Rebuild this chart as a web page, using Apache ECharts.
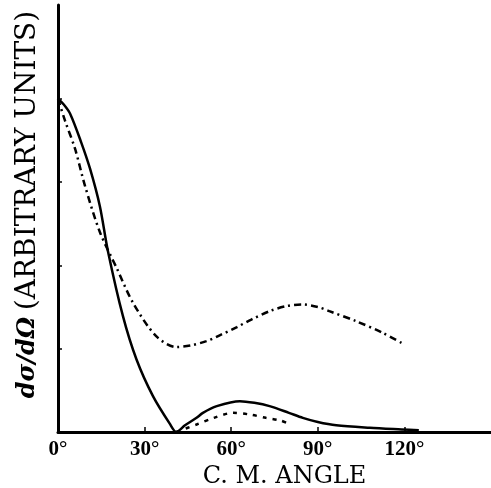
<!DOCTYPE html>
<html>
<head>
<meta charset="utf-8">
<script src="https://cdn.jsdelivr.net/npm/echarts@6/dist/echarts.min.js"></script>
<style>html,body{margin:0;padding:0;background:#fff;}#c{width:491px;height:488px;}</style>
</head>
<body>
<div id="c"></div>
<script>
// Tick labels
var xTickValues = [0, 30, 60, 90, 120];
var yTickValues = [1, 2, 3, 4];

// Solid curve (angle in degrees, cross section arbitrary units)
var solidAngles = [0, 2, 4.2, 8, 11.1, 14.5, 17.3, 22.5, 27.2, 32.9, 38.7, 41, 44, 48, 50.2, 55, 63, 68, 73.3, 80, 84.8, 90, 96.4, 108, 119, 125];
var solidValues = [4.0, 3.93, 3.82, 3.48, 3.16, 2.71, 2.17, 1.39, 0.87, 0.43, 0.10, 0.0, 0.08, 0.17, 0.23, 0.31, 0.37, 0.35, 0.31, 0.23, 0.17, 0.12, 0.08, 0.05, 0.03, 0.02];

// Dash-dot curve
var dashDotAngles = [0, 2.4, 5.9, 9.3, 14.5, 20.3, 26, 34, 41, 46, 51.4, 56, 62, 67, 73.3, 79, 84.8, 90, 94, 103.3, 112.5, 120];
var dashDotValues = [4.0, 3.74, 3.40, 2.96, 2.40, 1.97, 1.55, 1.15, 1.02, 1.04, 1.09, 1.16, 1.26, 1.35, 1.45, 1.51, 1.53, 1.50, 1.45, 1.33, 1.19, 1.05];

// Dotted curve
var dottedAngles = [41, 48, 54, 60.6, 66.4, 72, 76.8, 80];
var dottedValues = [0.0, 0.09, 0.17, 0.23, 0.21, 0.17, 0.14, 0.10];

function pairs(a, v) { return a.map(function (x, i) { return [x, v[i]]; }); }

var chart = echarts.init(document.getElementById('c'), null, {renderer: 'canvas'});
chart.setOption({
  backgroundColor: '#ffffff',
  animation: false,
  grid: {left: 58, right: 0, top: 5, bottom: 56, containLabel: false, outerBoundsMode: 'none'},
  xAxis: {
    type: 'value', min: 0, max: 150,
    name: 'C. M. ANGLE', nameLocation: 'middle', nameGap: 22,
    nameTextStyle: {fontFamily: 'DejaVu Serif', fontSize: 24, color: '#000', padding: [0, 0, 0, 20]},
    axisLine: {show: true, onZero: false, lineStyle: {color: '#000', width: 3}},
    axisTick: {show: true, inside: true, length: 5, customValues: [30, 60, 90, 120], lineStyle: {color: '#000', width: 1.5}},
    axisLabel: {show: true, customValues: xTickValues, margin: 7, color: '#000',
      fontFamily: 'Liberation Serif', fontWeight: 'bold', fontSize: 21,
      formatter: function (v) { return v + '°'; }},
    splitLine: {show: false}
  },
  yAxis: {
    type: 'value', min: 0, max: 5.125,
    name: '{a|dσ/dΩ}  {b|(ARBITRARY UNITS)}', nameLocation: 'middle', nameGap: 16,
    nameTextStyle: {color: '#000', padding: [0, 0, 0, 28],
      rich: {
        a: {fontFamily: 'DejaVu Serif', fontStyle: 'italic', fontWeight: 'bold', fontSize: 24, color: '#000'},
        b: {fontFamily: 'DejaVu Serif', fontSize: 28, color: '#000'}
      }},
    axisLine: {show: true, onZero: false, lineStyle: {color: '#000', width: 3}},
    axisTick: {show: true, inside: true, length: 4, customValues: yTickValues, lineStyle: {color: '#000', width: 1.5}},
    axisLabel: {show: false},
    splitLine: {show: false}
  },
  series: [
    {type: 'line', data: pairs(solidAngles, solidValues), smooth: 0.3, showSymbol: false,
      lineStyle: {color: '#000', width: 2.5, type: 'solid'}},
    {type: 'line', data: pairs(dashDotAngles, dashDotValues), smooth: 0.3, showSymbol: false,
      lineStyle: {color: '#000', width: 2.5, type: [7, 4, 2, 4]}},
    {type: 'line', data: pairs(dottedAngles, dottedValues), smooth: 0.3, showSymbol: false,
      lineStyle: {color: '#000', width: 2.5, type: [4, 6]}}
  ]
});
</script>
</body>
</html>
